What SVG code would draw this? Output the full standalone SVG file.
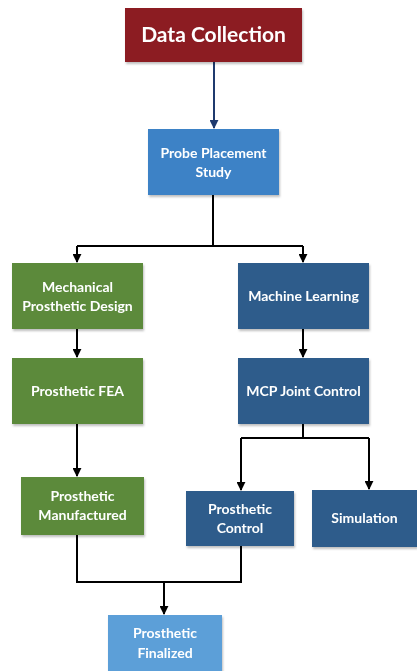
<svg xmlns="http://www.w3.org/2000/svg" width="417" height="671" viewBox="0 0 417 671">
  <style>
    .box { stroke: none; }
    .red { fill: #8C1D24; }
    .blue { fill: #3D82C6; }
    .green { fill: #5B8A3B; }
    .navy { fill: #2D5C8B; }
    .light { fill: #5C9FD8; }
    .label { font-family: Lato, "Open Sans", sans-serif; font-weight: bold; fill: #FFFFFF; text-anchor: middle; font-size: 14px; }
    .big { font-size: 21px; }
    .wire { fill: none; stroke: #000000; stroke-width: 2; }
    .wire-navy { fill: none; stroke: #1F3A6E; stroke-width: 2; }
  </style>
  <defs>
    <marker id="arrow" viewBox="0 0 10 10" refX="9" refY="5" markerWidth="4.5" markerHeight="4.5" orient="auto" markerUnits="strokeWidth">
      <path d="M0,0 L10,5 L0,10 z" fill="#000000"/>
    </marker>
    <marker id="arrow-navy" viewBox="0 0 10 10" refX="9" refY="5" markerWidth="4.5" markerHeight="4.5" orient="auto" markerUnits="strokeWidth">
      <path d="M0,0 L10,5 L0,10 z" fill="#1F3A6E"/>
    </marker>
    <filter id="shadow" x="-10%" y="-10%" width="125%" height="130%">
      <feDropShadow dx="1" dy="2" stdDeviation="1.2" flood-color="#000000" flood-opacity="0.25"/>
    </filter>
  </defs>

  <rect width="417" height="671" fill="#FFFFFF"/>

  <g id="connectors">
    <path class="wire-navy" d="M214,62 V128" marker-end="url(#arrow-navy)"/>
    <path class="wire" d="M213,195 V246"/>
    <path class="wire" d="M77,246 H303"/>
    <path class="wire" d="M77,246 V262" marker-end="url(#arrow)"/>
    <path class="wire" d="M303,246 V262" marker-end="url(#arrow)"/>
    <path class="wire" d="M77,329 V357" marker-end="url(#arrow)"/>
    <path class="wire" d="M303,329 V357" marker-end="url(#arrow)"/>
    <path class="wire" d="M77,424 V476" marker-end="url(#arrow)"/>
    <path class="wire" d="M303,424 V438"/>
    <path class="wire" d="M241,438 H369"/>
    <path class="wire" d="M241,438 V490" marker-end="url(#arrow)"/>
    <path class="wire" d="M369,438 V489" marker-end="url(#arrow)"/>
    <path class="wire" d="M77,535 V582 H241 V546"/>
    <path class="wire" d="M164,582 V614" marker-end="url(#arrow)"/>
  </g>

  <g id="data-collection" filter="url(#shadow)">
    <rect class="box red" x="125" y="8" width="177" height="54"/>
    <text class="label big" x="213.5" y="42">Data Collection</text>
  </g>

  <g id="probe-placement" filter="url(#shadow)">
    <rect class="box blue" x="148" y="129" width="131" height="66"/>
    <text class="label" x="213.5" y="158">Probe Placement</text>
    <text class="label" x="213.5" y="177">Study</text>
  </g>

  <g id="mechanical-design" filter="url(#shadow)">
    <rect class="box green" x="12" y="263" width="131" height="66"/>
    <text class="label" x="77.5" y="292">Mechanical</text>
    <text class="label" x="77.5" y="311">Prosthetic Design</text>
  </g>

  <g id="machine-learning" filter="url(#shadow)">
    <rect class="box navy" x="238" y="263" width="131" height="66"/>
    <text class="label" x="303.5" y="301">Machine Learning</text>
  </g>

  <g id="prosthetic-fea" filter="url(#shadow)">
    <rect class="box green" x="12" y="358" width="131" height="66"/>
    <text class="label" x="77.5" y="396">Prosthetic FEA</text>
  </g>

  <g id="mcp-joint-control" filter="url(#shadow)">
    <rect class="box navy" x="238" y="358" width="131" height="66"/>
    <text class="label" x="303.5" y="396">MCP Joint Control</text>
  </g>

  <g id="prosthetic-manufactured" filter="url(#shadow)">
    <rect class="box green" x="21" y="477" width="123" height="58"/>
    <text class="label" x="82.5" y="501">Prosthetic</text>
    <text class="label" x="82.5" y="520">Manufactured</text>
  </g>

  <g id="prosthetic-control" filter="url(#shadow)">
    <rect class="box navy" x="186" y="491" width="108" height="55"/>
    <text class="label" x="240" y="514">Prosthetic</text>
    <text class="label" x="240" y="533">Control</text>
  </g>

  <g id="simulation" filter="url(#shadow)">
    <rect class="box navy" x="312" y="490" width="105" height="57"/>
    <text class="label" x="364.5" y="523">Simulation</text>
  </g>

  <g id="prosthetic-finalized" filter="url(#shadow)">
    <rect class="box light" x="108" y="615" width="114" height="60"/>
    <text class="label" x="165" y="638">Prosthetic</text>
    <text class="label" x="165" y="658">Finalized</text>
  </g>
</svg>
